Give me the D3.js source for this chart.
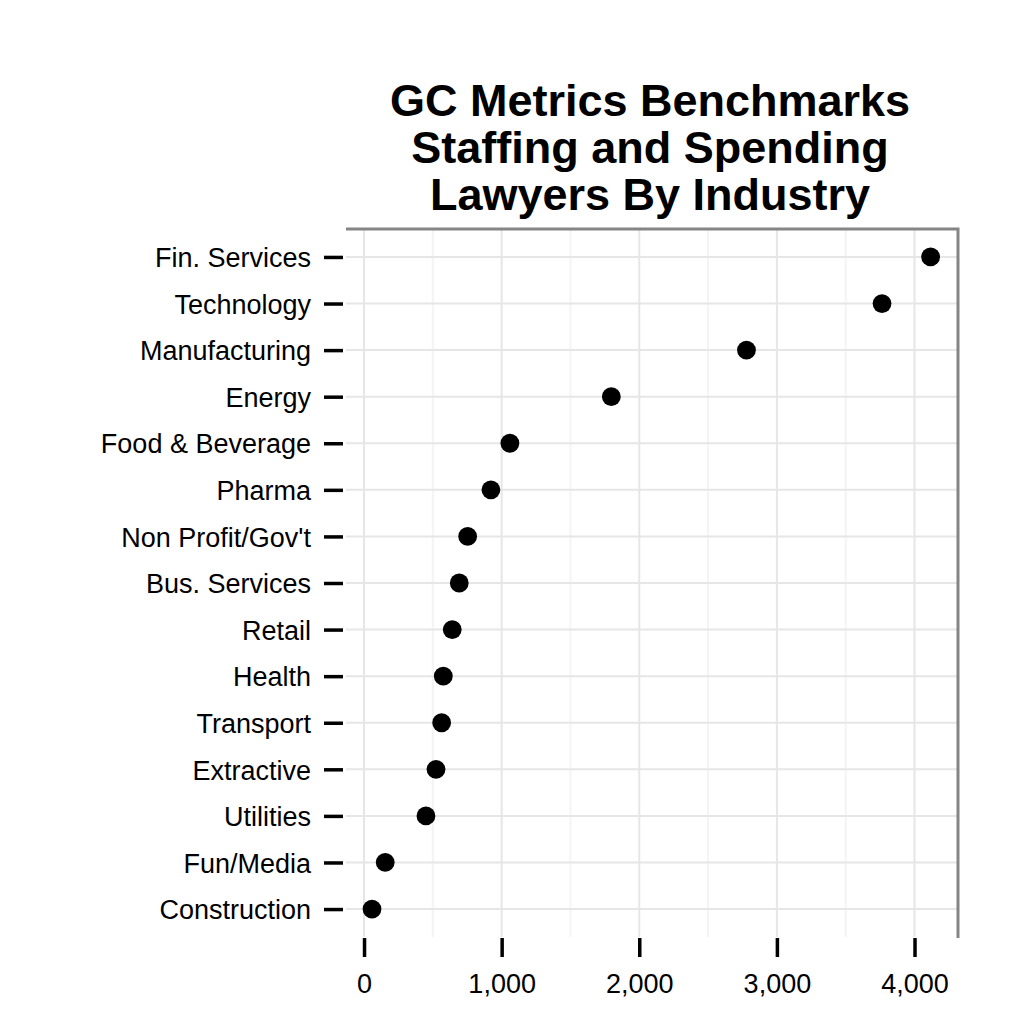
<!DOCTYPE html>
<meta charset="utf-8">
<script src="https://d3js.org/d3.v7.min.js"></script>
<style>
  body { margin: 0; background: #fff; }
  text { font-family: "Liberation Sans", Arial, sans-serif; }
</style>
<div id="chart"></div>
<script>

// data
var industries = ["Fin. Services", "Technology", "Manufacturing", "Energy", "Food & Beverage",
  "Pharma", "Non Profit/Gov't", "Bus. Services", "Retail", "Health", "Transport",
  "Extractive", "Utilities", "Fun/Media", "Construction"];
var lawyers = [4117, 3764, 2779, 1797, 1060, 922, 753, 692, 641, 576, 564, 523, 450, 154, 58];
var xTicks = [0, 1000, 2000, 3000, 4000];
var xMinor = [500, 1500, 2500, 3500];
var titleLines = ["GC Metrics Benchmarks", "Staffing and Spending", "Lawyers By Industry"];

var data = industries.map(function(d, i) { return {name: d, value: lawyers[i]}; });

var W = 1024, H = 1024;
var panel = {left: 346, right: 958, top: 229, bottom: 937};

var svg = d3.select("#chart").append("svg")
    .attr("width", W)
    .attr("height", H);

var x = d3.scaleLinear()
    .domain([-131, 4316])
    .range([panel.left, panel.right]);

var y = d3.scalePoint()
    .domain(industries)
    .range([panel.top, panel.bottom])
    .padding(0.6);

// minor grid
svg.selectAll(".minor")
  .data(xMinor)
  .enter().append("line")
    .attr("x1", function(d) { return x(d); })
    .attr("x2", function(d) { return x(d); })
    .attr("y1", panel.top)
    .attr("y2", panel.bottom)
    .attr("stroke", "#f4f4f4")
    .attr("stroke-width", 2);

// major grid
svg.selectAll(".vgrid")
  .data(xTicks)
  .enter().append("line")
    .attr("x1", function(d) { return x(d); })
    .attr("x2", function(d) { return x(d); })
    .attr("y1", panel.top)
    .attr("y2", panel.bottom)
    .attr("stroke", "#e6e6e6")
    .attr("stroke-width", 2);

svg.selectAll(".hgrid")
  .data(industries)
  .enter().append("line")
    .attr("x1", panel.left)
    .attr("x2", panel.right)
    .attr("y1", function(d) { return y(d); })
    .attr("y2", function(d) { return y(d); })
    .attr("stroke", "#e6e6e6")
    .attr("stroke-width", 2);

// panel border, top and right only
svg.append("path")
    .attr("d", "M" + panel.left + "," + panel.top + "H" + panel.right + "V" + (panel.bottom + 1))
    .attr("fill", "none")
    .attr("stroke", "#858585")
    .attr("stroke-width", 3);

// y axis
var yAxis = svg.append("g")
    .attr("transform", "translate(" + (panel.left - 3) + ",0)")
    .call(d3.axisLeft(y).tickSize(19).tickPadding(13));
yAxis.select(".domain").remove();
yAxis.selectAll(".tick line").attr("stroke", "#000").attr("stroke-width", 3.5);
yAxis.selectAll(".tick text")
    .attr("fill", "#000")
    .attr("dy", "0.36em")
    .style("font-size", "27px");

// x axis
var xAxis = svg.append("g")
    .attr("transform", "translate(0," + (panel.bottom + 1) + ")")
    .call(d3.axisBottom(x).tickValues(xTicks).tickFormat(d3.format(",")).tickSize(19).tickPadding(17));
xAxis.select(".domain").remove();
xAxis.selectAll(".tick line").attr("stroke", "#000").attr("stroke-width", 3.5);
xAxis.selectAll(".tick text")
    .attr("fill", "#000")
    .style("font-size", "27px");

// points
svg.selectAll(".dot")
  .data(data)
  .enter().append("circle")
    .attr("cx", function(d) { return x(d.value); })
    .attr("cy", function(d) { return y(d.name); })
    .attr("r", 9.4)
    .attr("fill", "#000");

// title
svg.append("text")
    .attr("text-anchor", "middle")
    .style("font-size", "45px")
    .style("font-weight", "bold")
  .selectAll("tspan")
  .data(titleLines)
  .enter().append("tspan")
    .attr("x", 650)
    .attr("y", function(d, i) { return 116 + i * 47; })
    .text(function(d) { return d; });

</script>
